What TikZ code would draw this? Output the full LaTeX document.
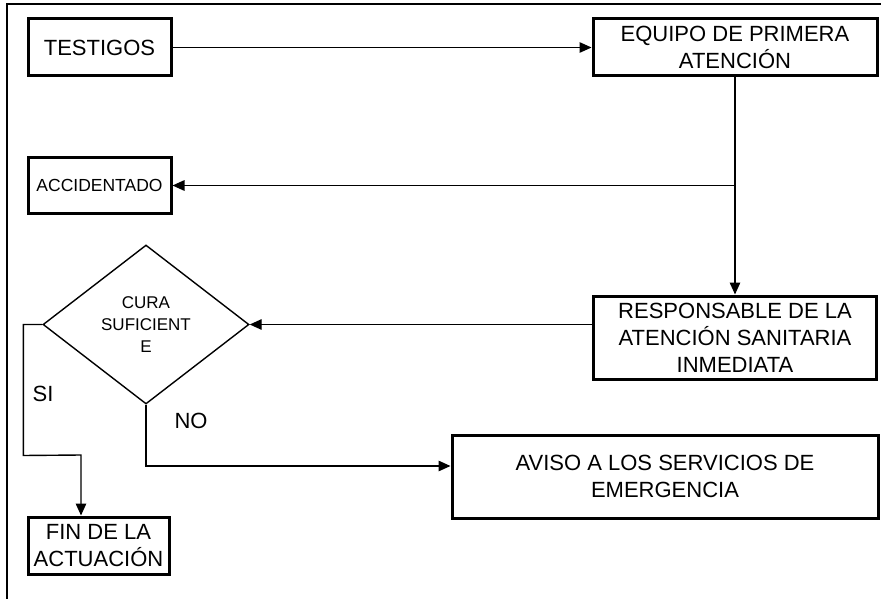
\documentclass[tikz,border=0pt]{standalone}
\usepackage{fontspec}
\setmainfont{Liberation Sans}
\usetikzlibrary{arrows.meta, positioning, calc, shapes.geometric}
\tikzset{
    box/.style={rectangle, draw, line width=3pt, align=center, inner sep=0pt,
                font=\fontsize{22}{27}\selectfont},
    decision/.style={diamond, draw, line width=1.4pt, align=center, inner sep=0pt,
                     minimum width=206pt, minimum height=159pt,
                     font=\fontsize{17}{22}\selectfont},
    conn/.style={->, >={Triangle[length=12pt, width=10.5pt]}, line width=1.4pt},
    lbl/.style={font=\fontsize{22}{27}\selectfont},
}

\begin{document}
\begin{tikzpicture}[x=1pt, y=-1pt]
    \useasboundingbox (0,0) rectangle (881,599);
    % marco
    \draw[line width=2pt] (7,599) -- (7,4) -- (881,4);

    \node[box, minimum width=143pt, minimum height=57pt] (testigos) at (99.5,47.5) {TESTIGOS};
    \node[box, minimum width=284pt, minimum height=57pt] (equipo) at (735,47.5) {EQUIPO DE PRIMERA\\ATENCIÓN};
    \node[box, minimum width=143pt, minimum height=55pt,
          font=\fontsize{17.5}{21}\selectfont] (accidentado) at (99.5,185.5) {ACCIDENTADO};
    \node[decision] (cura) at (146,324.5) {CURA\\SUFICIENT\\E};
    \node[box, minimum width=283pt, minimum height=83pt] (responsable) at (735,337.5)
        {RESPONSABLE DE LA\\ATENCIÓN SANITARIA\\INMEDIATA};
    \node[box, minimum width=426pt, minimum height=83pt] (aviso) at (665,476.5)
        {AVISO A LOS SERVICIOS DE\\EMERGENCIA};
    \node[box, minimum width=141pt, minimum height=57pt] (fin) at (98.5,545.5) {FIN DE LA\\ACTUACIÓN};

    \node[lbl] (si) at (43,394) {SI};
    \node[lbl] (no) at (191,421) {NO};

    \draw[conn] (testigos) -- (equipo);
    \draw[conn] (equipo) -- (responsable);
    \draw[conn] (equipo.south |- accidentado.east) -- (accidentado);
    \draw[conn] (responsable.west |- cura.east) -- (cura.east);
    % rama SI
    \coordinate (siCodo) at (81,455);
    \draw[conn] (cura.west) -| ($(cura.west)+(-19,131)$) -- (siCodo) -- (siCodo |- fin.north);
    % rama NO
    \coordinate (noCodo) at (146,466);
    \draw[conn] (cura.south) -- (noCodo) -- (noCodo -| aviso.west);
\end{tikzpicture}
\end{document}
